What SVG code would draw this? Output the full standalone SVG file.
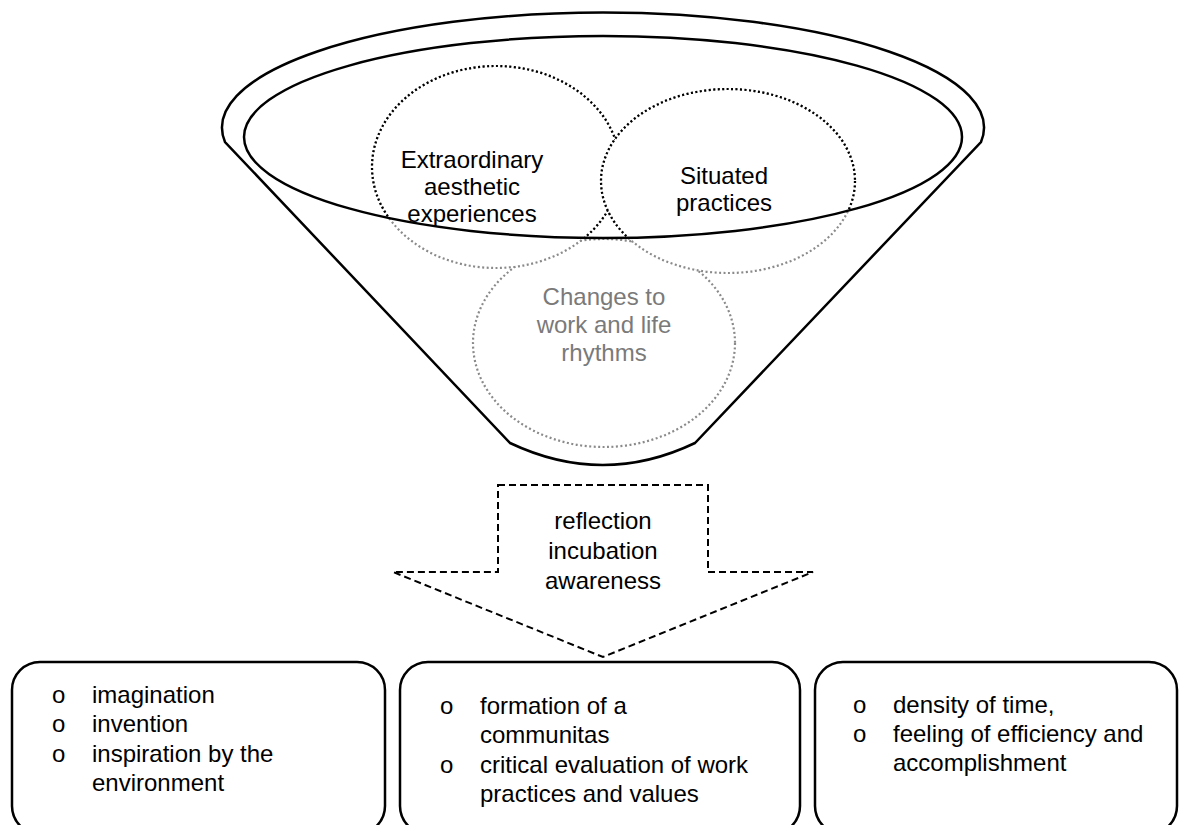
<svg xmlns="http://www.w3.org/2000/svg" width="1188" height="825" viewBox="0 0 1188 825">
<style>
  text { font-family: "Liberation Sans", Arial, sans-serif; font-size: 24px; fill: #000; }
  .c { text-anchor: middle; }
  .gray { fill: #7a7a7a; }
  .solid { fill: none; stroke: #000; stroke-width: 2.5; }
  .dotg { fill: #fff; stroke: #8a8a8a; stroke-width: 2.2; stroke-dasharray: 2 2.5; }
  .dotb { fill: none; stroke: #000; stroke-width: 2.2; stroke-dasharray: 2 2.5; }
  .dash { fill: #fff; stroke: #000; stroke-width: 2; stroke-dasharray: 7 4; }
  .box { fill: #fff; stroke: #000; stroke-width: 2.5; }
</style>
<defs>
  <clipPath id="inner">
    <ellipse cx="603" cy="137" rx="359" ry="101"/>
  </clipPath>
</defs>
<rect width="1188" height="825" fill="#fff"/>
<g id="funnel">
  <path class="solid" fill="#fff" d="M225,142 A381,115 0 1 1 981,142 L695,443 Q603,487 510,443 Z"/>
</g>
<g id="changes">
  <ellipse class="dotg" cx="604" cy="343" rx="131" ry="104"/>
  <text class="c gray" x="604" y="305">Changes to</text>
  <text class="c gray" x="604" y="333">work and life</text>
  <text class="c gray" x="604" y="361">rhythms</text>
</g>
<g id="extraordinary">
  <ellipse class="dotg" cx="496" cy="167" rx="124" ry="101"/>
  <ellipse class="dotb" cx="496" cy="167" rx="124" ry="101" clip-path="url(#inner)"/>
</g>
<g id="situated">
  <ellipse class="dotg" cx="728" cy="181" rx="127" ry="92"/>
  <ellipse class="dotb" cx="728" cy="181" rx="127" ry="92" clip-path="url(#inner)"/>
</g>
<g id="inner-ellipse">
  <ellipse class="solid" cx="603" cy="137" rx="359" ry="101"/>
</g>
<g id="labels">
  <text class="c" x="472" y="168">Extraordinary</text>
  <text class="c" x="472" y="195">aesthetic</text>
  <text class="c" x="472" y="222">experiences</text>
  <text class="c" x="724" y="184">Situated</text>
  <text class="c" x="724" y="211">practices</text>
</g>
<g id="connectors">
  <g id="arrow">
    <path class="dash" d="M498,485 L708,485 L708,572 L813,572 L603,657 L393,572 L498,572 Z"/>
    <text class="c" x="603" y="529">reflection</text>
    <text class="c" x="603" y="559">incubation</text>
    <text class="c" x="603" y="589">awareness</text>
  </g>
</g>
<g id="box1">
  <rect class="box" x="12" y="662" width="373" height="172" rx="28"/>
  <text x="52" y="703">o</text><text x="92" y="703">imagination</text>
  <text x="52" y="732">o</text><text x="92" y="732">invention</text>
  <text x="52" y="762">o</text><text x="92" y="762">inspiration by the</text>
  <text x="92" y="791">environment</text>
</g>
<g id="box2">
  <rect class="box" x="400" y="662" width="400" height="172" rx="28"/>
  <text x="440" y="714">o</text><text x="480" y="714">formation of a</text>
  <text x="480" y="743">communitas</text>
  <text x="440" y="773">o</text><text x="480" y="773">critical evaluation of work</text>
  <text x="480" y="802">practices and values</text>
</g>
<g id="box3">
  <rect class="box" x="815" y="662" width="362" height="172" rx="28"/>
  <text x="853" y="713">o</text><text x="893" y="713">density of time,</text>
  <text x="853" y="742">o</text><text x="893" y="742">feeling of efficiency and</text>
  <text x="893" y="771">accomplishment</text>
</g>
</svg>
